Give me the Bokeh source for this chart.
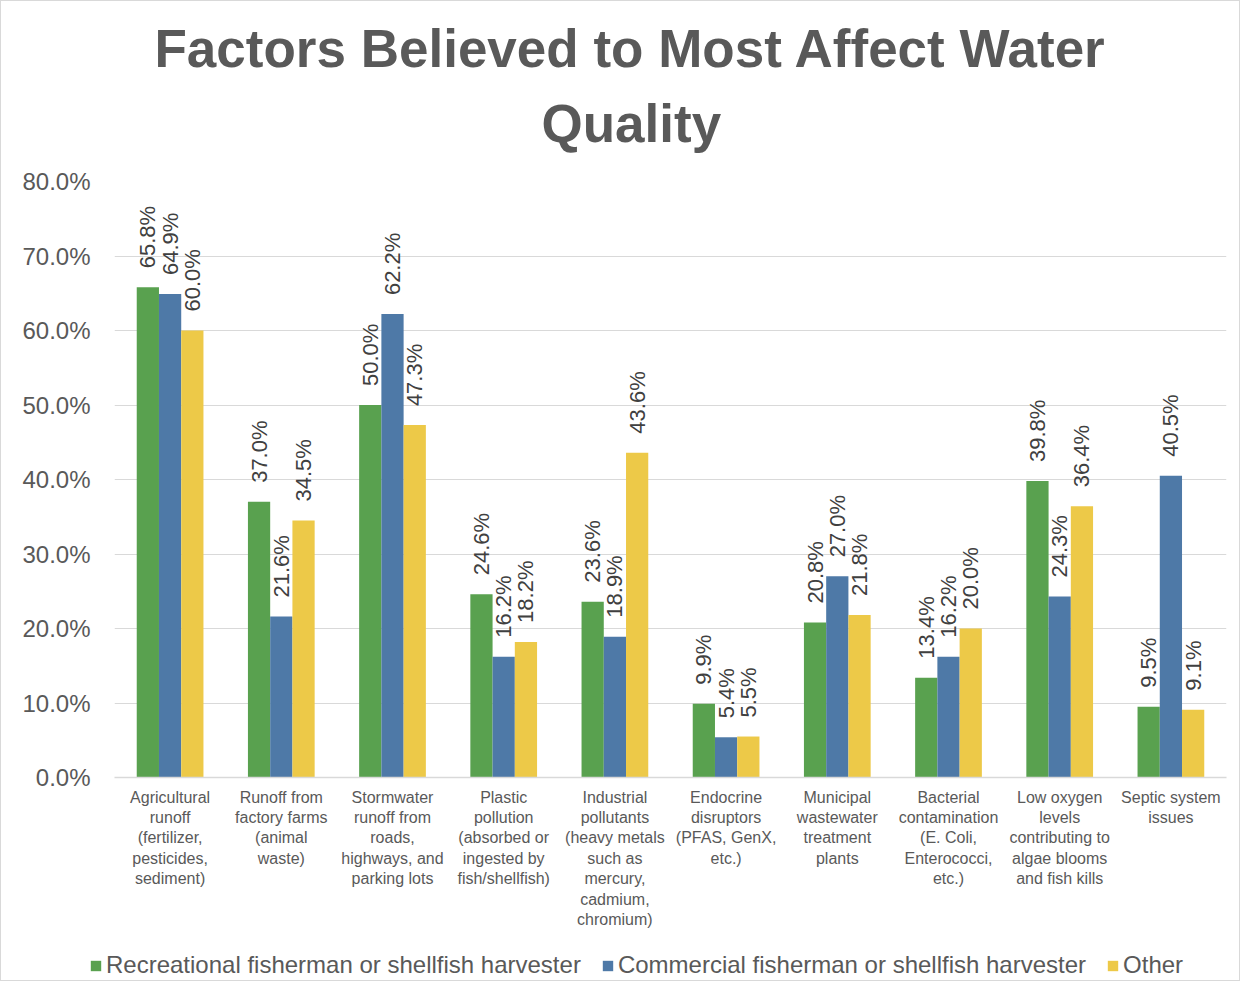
from bokeh.plotting import figure
from bokeh.models import (FactorRange, Range1d, ColumnDataSource, FixedTicker,
                          PrintfTickFormatter, Legend, LegendItem, Title)
from bokeh.transform import dodge
from bokeh.core.properties import value
from bokeh.embed import file_html
from bokeh.resources import INLINE
import math

categories = [
    "Agricultural\nrunoff\n(fertilizer,\npesticides,\nsediment)",
    "Runoff from\nfactory farms\n(animal\nwaste)",
    "Stormwater\nrunoff from\nroads,\nhighways, and\nparking lots",
    "Plastic\npollution\n(absorbed or\ningested by\nfish/shellfish)",
    "Industrial\npollutants\n(heavy metals\nsuch as\nmercury,\ncadmium,\nchromium)",
    "Endocrine\ndisruptors\n(PFAS, GenX,\netc.)",
    "Municipal\nwastewater\ntreatment\nplants",
    "Bacterial\ncontamination\n(E. Coli,\nEnterococci,\netc.)",
    "Low oxygen\nlevels\ncontributing to\nalgae blooms\nand fish kills",
    "Septic system\nissues",
]
series_names = ["Recreational fisherman or shellfish harvester",
                "Commercial fisherman or shellfish harvester",
                "Other"]
recreational = [65.8, 37.0, 50.0, 24.6, 23.6, 9.9, 20.8, 13.4, 39.8, 9.5]
commercial = [64.9, 21.6, 62.2, 16.2, 18.9, 5.4, 27.0, 16.2, 24.3, 40.5]
other = [60.0, 34.5, 47.3, 18.2, 43.6, 5.5, 21.8, 20.0, 36.4, 9.1]
y_ticks = [0, 10, 20, 30, 40, 50, 60, 70, 80]
title_lines = ["Factors Believed to Most Affect Water", "Quality"]

colors = ["#59A14F", "#4E79A7", "#EDC948"]
FONT = "Liberation Sans"
TXT = "#595959"
W, H_MAIN, H_LEG = 1240, 941, 40

src = ColumnDataSource(dict(
    cat=categories,
    rec=recreational, com=commercial, oth=other,
    rec_l=["%.1f%%" % v for v in recreational],
    com_l=["%.1f%%" % v for v in commercial],
    oth_l=["%.1f%%" % v for v in other],
))

p = figure(width=W, height=H_MAIN, x_range=FactorRange(factors=categories),
           y_range=Range1d(0, 80), output_backend="svg", toolbar_location=None,
           min_border_left=113, min_border_right=15, min_border_top=180,
           min_border_bottom=165, outline_line_color=None,
           styles={"border-top": "1px solid #d9d9d9", "border-left": "1px solid #d9d9d9",
                   "border-right": "1px solid #d9d9d9"})

# title: two single-line titles, the lower one added first (closest to frame)
p.add_layout(Title(text=title_lines[1], align="left", offset=427, standoff=58,
                   text_font=FONT, text_font_size="53px", text_font_style="bold",
                   text_color=TXT), "above")
p.add_layout(Title(text=title_lines[0], align="left", offset=40, standoff=-30,
                   text_font=FONT, text_font_size="53px", text_font_style="bold",
                   text_color=TXT), "above")

keys = [("rec", -0.2, colors[0]), ("com", 0.0, colors[1]), ("oth", 0.2, colors[2])]
for key, off, col in keys:
    p.vbar(x=dodge("cat", off, range=p.x_range), top=key, width=0.2, source=src,
           fill_color=col, line_color=None)
    p.text(x=dodge("cat", off, range=p.x_range), y=key, text=key + "_l", source=src,
           angle=math.pi / 2, text_align="left", text_baseline="middle",
           y_offset=-19, text_font=value(FONT), text_font_size="22px",
           text_color="#404040")

p.xgrid.grid_line_color = None
p.ygrid.grid_line_color = "#D9D9D9"
p.ygrid.grid_line_width = 1
p.yaxis.ticker = FixedTicker(ticks=y_ticks)
p.yaxis.formatter = PrintfTickFormatter(format="%.1f%%")
p.yaxis.axis_line_color = None
p.yaxis.major_tick_line_color = None
p.yaxis.minor_tick_line_color = None
p.yaxis.major_tick_out = 0
p.yaxis.major_label_standoff = 24
p.yaxis.major_label_text_font = FONT
p.yaxis.major_label_text_font_size = "24px"
p.yaxis.major_label_text_color = TXT

p.xaxis.axis_line_color = "#D9D9D9"
p.xaxis.axis_line_width = 1.5
p.xaxis.major_tick_line_color = None
p.xaxis.major_tick_out = 0
p.xaxis.major_label_standoff = 11
p.xaxis.major_label_text_font = FONT
p.xaxis.major_label_text_font_size = "16px"
p.xaxis.major_label_text_color = TXT
p.xaxis.major_label_text_line_height = 1.2
p.xaxis.major_label_orientation = "horizontal"

# legend strip below the chart (separate root, so no frame alignment)
p2 = figure(width=W, height=H_LEG, x_range=FactorRange(factors=categories),
            y_range=Range1d(0, 1), output_backend="svg", toolbar_location=None,
            x_axis_location=None, y_axis_location=None,
            min_border_left=0, min_border_right=0, min_border_top=0,
            min_border_bottom=0, outline_line_color=None,
            styles={"border-bottom": "1px solid #d9d9d9", "border-left": "1px solid #d9d9d9",
                    "border-right": "1px solid #d9d9d9"})
p2.grid.visible = False
leg_renderers = []
for key, off, col in keys:
    r = p2.vbar(x=dodge("cat", off, range=p2.x_range), top=key, width=0.2, source=src,
                fill_color=col, line_color=None, visible=False)
    leg_renderers.append(r)

legend = Legend(items=[LegendItem(label=n, renderers=[r]) for n, r in zip(series_names, leg_renderers)],
                orientation="horizontal", location=(88, 2),
                border_line_color=None, background_fill_alpha=0,
                glyph_width=13, glyph_height=13, label_standoff=4, spacing=20,
                padding=0, margin=0, label_text_font=FONT, label_text_font_size="24px",
                label_text_color=TXT)
p2.add_layout(legend, "center")

open("out.html", "w").write(file_html([p, p2], INLINE))
